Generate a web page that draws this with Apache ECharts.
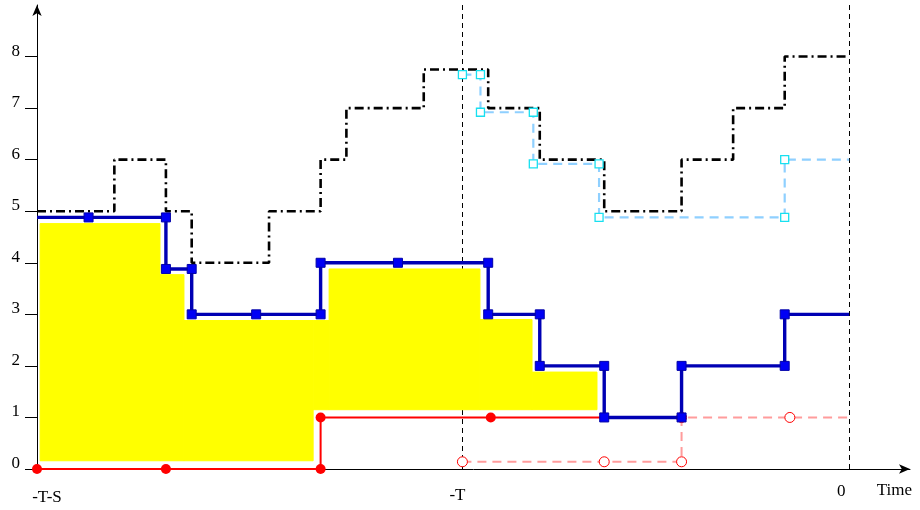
<!DOCTYPE html>
<html><head><meta charset="utf-8">
<script src="https://cdn.jsdelivr.net/npm/echarts@6/dist/echarts.min.js"></script>
<style>html,body{margin:0;padding:0;background:#fff}#c{width:920px;height:510px}</style>
</head><body><div id="c"></div>
<script>
// ---- data ----
const timeTicks = [-31.5, -15, 0];
const timeTickLabels = ['-T-S', '-T', '0'];
const levelTicks = [0, 1, 2, 3, 4, 5, 6, 7, 8];
const markerTimes = [-15, 0];

const blackX = [-31.5, -28.5, -26.5, -25.5, -22.5, -20.5, -19.5, -16.5, -14, -12, -9.5, -6.5, -4.5, -2.5, 0];
const blackY = [5, 6, 5, 4, 5, 6, 7, 7.75, 7, 6, 5, 6, 7, 8, 8];

const blueX = [-31.5, -29.5, -26.5, -26.5, -25.5, -25.5, -23, -20.5, -20.5, -17.5, -14, -14, -12, -12, -9.5, -9.5, -6.5, -6.5, -2.5, -2.5, 0];
const blueY = [4.88, 4.88, 4.88, 3.88, 3.88, 3, 3, 3, 4, 4, 4, 3, 3, 2, 2, 1, 1, 2, 2, 3, 3];

const redX = [-31.5, -26.5, -20.5, -20.5, -13.9, -9.5];
const redY = [0, 0, 0, 1, 1, 1];

const redDashX = [-15, -9.5, -6.5, -6.5, -2.3, 0];
const redDashY = [0.14, 0.14, 0.14, 1, 1, 1];

const cyanX = [-15, -14.3, -14.3, -12.25, -12.25, -9.7, -9.7, -2.5, -2.5, 0];
const cyanY = [7.65, 7.65, 6.92, 6.92, 5.92, 5.92, 4.88, 4.88, 6, 6];

const yellowX0 = [-31.38, -26.73, -25.8, -20.79, -20.17, -14.32, -12.3];
const yellowX1 = [-26.73, -25.8, -20.79, -20.17, -14.32, -12.3, -9.78];
const yellowLow = [0.16, 0.16, 0.16, 1.15, 1.15, 1.15, 1.15];
const yellowHigh = [4.76, 3.77, 2.88, 2.88, 3.88, 2.9, 1.88];

// ---- build ----
const FONT = '"Liberation Serif", "DejaVu Serif", serif';
function pts(xs, ys, noMarkIdx) {
  return xs.map((x, i) => noMarkIdx.includes(i) ? { value: [x, ys[i]], symbol: 'none' } : [x, ys[i]]);
}
const yellowData = yellowX0.map((x0, i) => [x0, yellowX1[i], yellowLow[i], yellowHigh[i]]);

const chart = echarts.init(document.getElementById('c'), null, { renderer: 'canvas' });
chart.setOption({
  animation: false,
  backgroundColor: '#fff',
  grid: { left: 37, right: 10, top: 5, bottom: 41, containLabel: false },
  xAxis: {
    type: 'value', min: -31.5, max: 2.36,
    axisLine: { show: true, onZero: false, lineStyle: { color: '#000', width: 1 }, symbol: ['none', 'arrow'], symbolSize: [7, 11] },
    axisTick: { show: false },
    splitLine: { show: false },
    axisLabel: {
      customValues: timeTicks, margin: 14, color: '#000', fontFamily: FONT, fontSize: 17,
      formatter: v => {
        const i = timeTicks.indexOf(v);
        return i === 0 ? '{a|' + timeTickLabels[i] + '}' : i === 1 ? '{b|' + timeTickLabels[i] + '}' : '{c|' + timeTickLabels[i] + '}';
      },
      rich: {
        a: { padding: [6, 0, 0, 20], fontFamily: FONT, fontSize: 17, color: '#000' },
        b: { padding: [4, 10, 0, 0], fontFamily: FONT, fontSize: 17, color: '#000' },
        c: { padding: [0, 16, 0, 0], fontFamily: FONT, fontSize: 17, color: '#000' }
      }
    },
    name: 'Time', nameLocation: 'end', nameGap: 2,
    nameTextStyle: { fontFamily: FONT, fontSize: 17, color: '#000', align: 'right', verticalAlign: 'top', padding: [13, 0, 0, 0] }
  },
  yAxis: {
    type: 'value', min: 0, max: 9,
    axisLine: { show: true, onZero: false, lineStyle: { color: '#000', width: 1 }, symbol: ['none', 'arrow'], symbolSize: [7, 11] },
    axisTick: { show: true, customValues: levelTicks, length: 12, lineStyle: { color: '#000', width: 1 } },
    splitLine: { show: false },
    axisLabel: { customValues: levelTicks, margin: 17, color: '#000', fontFamily: FONT, fontSize: 17, verticalAlign: 'bottom', lineHeight: 11 }
  },
  series: [
    {
      type: 'line', z: 1, data: [[-15, 0], [0, 0]], showSymbol: false, lineStyle: { width: 0, opacity: 0 }, silent: true,
      markLine: {
        silent: true, symbol: ['none', 'none'], z: 1,
        label: { show: false },
        lineStyle: { color: '#000', width: 1, type: [5, 4] },
        data: markerTimes.map(t => ({ xAxis: t }))
      }
    },
    {
      type: 'custom', z: 6, encode: { x: [0, 1], y: [2, 3] }, data: yellowData, clip: false,
      renderItem: (params, api) => {
        const p0 = api.coord([api.value(0), api.value(3)]);
        const p1 = api.coord([api.value(1), api.value(2)]);
        return { type: 'rect', shape: { x: p0[0], y: p0[1], width: p1[0] - p0[0], height: p1[1] - p0[1] },
          style: { fill: '#ffff00', stroke: '#ffff00', lineWidth: 1 } };
      }
    },
    {
      type: 'line', z: 7, step: 'end', data: pts(blackX, blackY, []), showSymbol: false, clip: false,
      lineStyle: { color: '#000', width: 2.6, type: [9, 4, 2, 4] }
    },
    {
      type: 'line', z: 8, data: pts(cyanX, cyanY, [cyanX.length - 1]), clip: false,
      symbol: 'rect', symbolSize: 8,
      itemStyle: { color: '#fff', borderColor: '#18e0f0', borderWidth: 1.3 },
      lineStyle: { color: '#8fd0ff', width: 2.2, type: [9, 6] }
    },
    {
      type: 'line', z: 8, data: pts(redDashX, redDashY, [redDashX.length - 1]), clip: false,
      symbol: 'circle', symbolSize: 10,
      itemStyle: { color: '#fff', borderColor: '#ff0000', borderWidth: 1 },
      lineStyle: { color: '#ff9c9c', width: 2, type: [9, 6] }
    },
    {
      type: 'line', z: 9, data: pts(redX, redY, [redX.length - 1]), clip: false,
      symbol: 'circle', symbolSize: 10,
      itemStyle: { color: '#ff0000' },
      lineStyle: { color: '#ff0000', width: 2 }
    },
    {
      type: 'line', z: 10, data: pts(blueX, blueY, [0, blueX.length - 1]), clip: false,
      symbol: 'rect', symbolSize: 9,
      itemStyle: { color: '#0000f5', borderColor: '#0000a8', borderWidth: 1 },
      lineStyle: { color: '#0000b4', width: 3.4 }
    }
  ]
});
</script>
</body></html>
